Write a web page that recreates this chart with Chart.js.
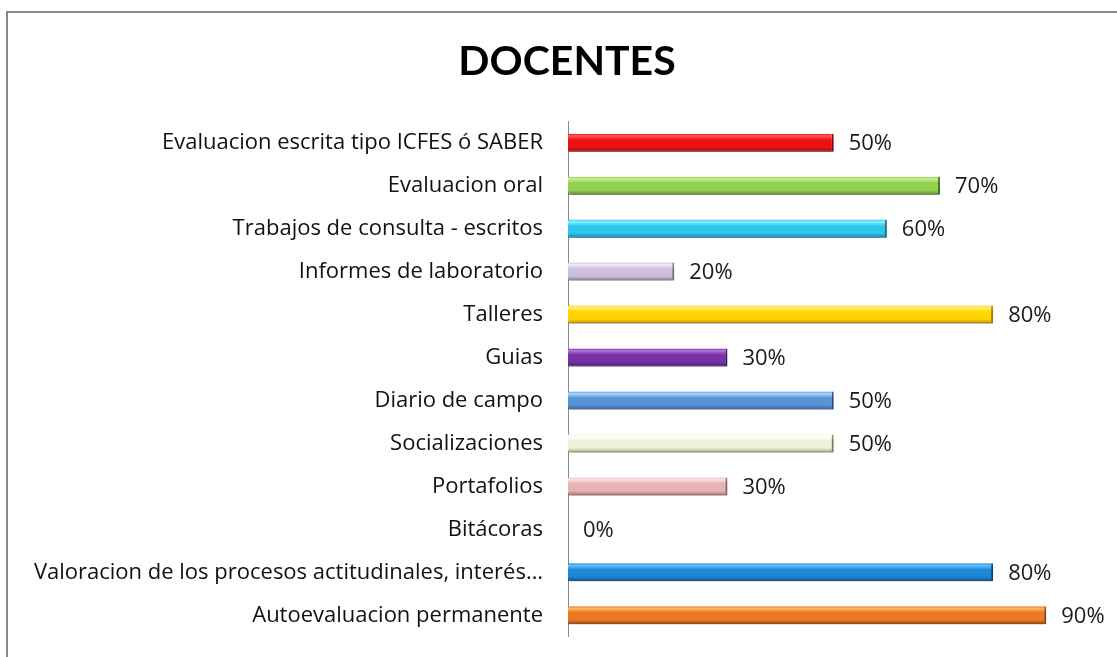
<!DOCTYPE html>
<html>
<head>
<meta charset="utf-8">
<script src="https://cdn.jsdelivr.net/npm/chart.js@4"></script>
<style>
  html, body { margin: 0; padding: 0; background: #fff; overflow: hidden; }
  #box {
    position: absolute; left: 6px; top: 11px;
    width: 1120px; height: 680px;
    border-left: 2px solid #878787; border-top: 2px solid #878787;
  }
  #wrap { position: absolute; left: 0; top: 0; width: 1118px; height: 662px; }
</style>
</head>
<body>
<div id="box"><div id="wrap"><canvas id="myChart"></canvas></div></div>
<script>
// chart data
const categories = [
  "Evaluacion escrita tipo ICFES ó SABER",
  "Evaluacion oral",
  "Trabajos de consulta - escritos",
  "Informes de laboratorio",
  "Talleres",
  "Guias",
  "Diario de campo",
  "Socializaciones",
  "Portafolios",
  "Bitácoras",
  "Valoracion de los procesos actitudinales, interés…",
  "Autoevaluacion permanente"
];
const values = [0.5, 0.7, 0.6, 0.2, 0.8, 0.3, 0.5, 0.5, 0.3, 0, 0.8, 0.9];
const axisMax = 1.05;

// bar colours: light top, main, dark bottom
const lightColors = ["#ff5a5a", "#c9f095", "#86f2ff", "#f3ecfb", "#fff27a", "#b277e2", "#a9d8ff", "#ffffff", "#ffe2e2", "#dddddd", "#66c2ff", "#ffb45a"];
const mainColors  = ["#ee1111", "#92d050", "#2fc6ec", "#cbbfda", "#ffd400", "#7633a8", "#5a94d6", "#edf3da", "#e6b3b3", "#aaaaaa", "#1e86d6", "#ec7822"];
const darkColors  = ["#a00808", "#5d8c2f", "#1482ad", "#8a7ea4", "#c09000", "#491a6e", "#2e5e97", "#97a67a", "#a66e6e", "#777777", "#0e4e88", "#9c4a10"];

const labelFont = "Open Sans";

function barGradient(context) {
  const chart = context.chart;
  const i = context.dataIndex;
  if (!chart.chartArea) return mainColors[i];
  const yScale = chart.scales.y;
  const y = yScale.getPixelForValue(i);
  const half = (chart.chartArea.height / categories.length) * 0.42 / 2;
  const g = chart.ctx.createLinearGradient(0, y - half, 0, y + half);
  g.addColorStop(0, mainColors[i]);
  g.addColorStop(0.12, lightColors[i]);
  g.addColorStop(0.35, mainColors[i]);
  g.addColorStop(0.75, mainColors[i]);
  g.addColorStop(1, darkColors[i]);
  return g;
}

// soft shadow under the bars
const shadowPlugin = {
  id: "shadow",
  beforeDatasetDraw(chart) {
    const ctx = chart.ctx;
    ctx.save();
    ctx.shadowColor = "rgba(0,0,0,0.35)";
    ctx.shadowOffsetY = 4;
    ctx.shadowOffsetX = 1;
    ctx.shadowBlur = 4;
  },
  afterDatasetDraw(chart) {
    chart.ctx.restore();
  }
};

// percent labels at the end of each bar
const valueLabels = {
  id: "valueLabels",
  afterDatasetsDraw(chart) {
    const ctx = chart.ctx;
    const meta = chart.getDatasetMeta(0);
    ctx.save();
    ctx.font = "22px '" + labelFont + "'";
    ctx.fillStyle = "#1a1a1a";
    ctx.textBaseline = "middle";
    ctx.textAlign = "left";
    meta.data.forEach(function (bar, i) {
      ctx.fillText(Math.round(values[i] * 100) + "%", bar.x + 15, bar.y + 1);
    });
    ctx.restore();
  }
};

const myChart = document.getElementById("myChart").getContext("2d");
let barChart = new Chart(myChart, {
  type: "bar",
  data: {
    labels: categories,
    datasets: [
      {
        data: values,
        backgroundColor: barGradient,
        borderColor: darkColors,
        borderWidth: { top: 0, bottom: 1, right: 2, left: 0 },
        borderSkipped: "start",
        barPercentage: 0.42,
        categoryPercentage: 1,
      },
    ],
  },
  options: {
    indexAxis: "y",
    responsive: true,
    maintainAspectRatio: false,
    animation: false,
    layout: { padding: { left: 0, right: 0, top: 0, bottom: 3 } },
    plugins: {
      legend: { display: false },
      tooltip: { enabled: false },
      title: {
        display: true,
        text: "DOCENTES",
        color: "#000",
        font: { family: "Lato", size: 41, weight: "bold" },
        padding: { top: 24, bottom: 35 },
      },
    },
    scales: {
      x: { display: false, min: 0, max: axisMax },
      y: {
        grid: { drawOnChartArea: false, drawTicks: false },
        border: { display: true, color: "#888", width: 1 },
        ticks: {
          color: "#111",
          padding: 25,
          font: { family: labelFont, size: 22 },
        },
        afterFit: function (scale) {
          scale.width = 560;
        },
      },
    },
  },
  plugins: [shadowPlugin, valueLabels],
});
</script>
</body>
</html>
